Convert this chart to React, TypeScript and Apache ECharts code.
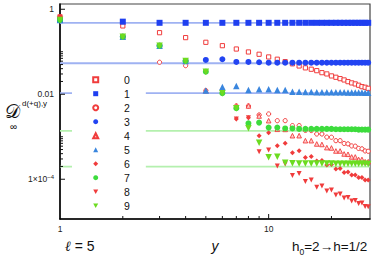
import React, { useEffect, useRef } from 'react';
import * as echarts from 'echarts';

// x values (y = 1..30)
const xValues = [1, 2, 3, 4, 5, 6, 7, 8, 9, 10, 11, 12, 13, 14, 15, 16, 17, 18, 19, 20, 21, 22, 23, 24, 25, 26, 27, 28, 29, 30];

const s0 = [0.659, 0.405, 0.281, 0.215, 0.167, 0.139, 0.116, 0.0989, 0.0873, 0.0755, 0.0667, 0.0585, 0.052, 0.0463, 0.0418, 0.0388, 0.0359, 0.0322, 0.0301, 0.027, 0.0251, 0.0233, 0.0217, 0.0198, 0.0185, 0.0175, 0.0163, 0.0151, 0.0146, 0.0138];
const s1 = [0.56, 0.511, 0.48, 0.48, 0.48, 0.48, 0.48, 0.48, 0.48, 0.48, 0.48, 0.48, 0.48, 0.48, 0.48, 0.48, 0.48, 0.48, 0.48, 0.48, 0.48, 0.48, 0.48, 0.48, 0.48, 0.48, 0.48, 0.48, 0.48, 0.48];
const s2 = [0.659, 0.226, 0.0566, 0.0471, 0.0122, 0.0126, 0.00531, 0.00531, 0.00326, 0.00344, 0.00239, 0.00239, 0.00183, 0.00183, 0.00141, 0.0014, 0.00116, 0.00116, 0.00098, 0.000973, 0.000809, 0.000809, 0.000695, 0.00068, 0.000608, 0.0006, 0.000531, 0.00052, 0.000463, 0.000455];
const s3 = [0.56, 0.226, 0.139, 0.0608, 0.0641, 0.0667, 0.0575, 0.0575, 0.0566, 0.0554, 0.0554, 0.0554, 0.0554, 0.0554, 0.0554, 0.0554, 0.0554, 0.0554, 0.0554, 0.0554, 0.0554, 0.0554, 0.0554, 0.0554, 0.0554, 0.0554, 0.0554, 0.0554, 0.0554, 0.0554];
const s4 = [0.659, 0.226, 0.139, 0.0608, 0.0122, 0.0126, 0.00531, 0.00531, 0.00308, 0.00239, 0.0015, 0.00149, 0.00106, 0.00106, 0.000809, 0.000809, 0.000677, 0.000659, 0.000555, 0.000545, 0.000463, 0.000463, 0.000394, 0.000387, 0.000335, 0.000335, 0.000292, 0.000292, 0.000259, 0.000259];
const s5 = [0.56, 0.226, 0.139, 0.0608, 0.0122, 0.0149, 0.0157, 0.0126, 0.0131, 0.0131, 0.0126, 0.0126, 0.0115, 0.0115, 0.0113, 0.0113, 0.0112, 0.0112, 0.0112, 0.0111, 0.0111, 0.0111, 0.0111, 0.011, 0.011, 0.011, 0.011, 0.011, 0.0109, 0.0109];
const s6 = [0.659, 0.226, 0.139, 0.0608, 0.034, 0.01056, 0.00262, 0.00281, 0.00106, 0.00125, 0.000618, 0.000703, 0.000422, 0.000471, 0.000326, 0.000344, 0.00027, 0.000277, 0.000217, 0.000223, 0.000175, 0.000179, 0.000145, 0.000149, 0.000126, 0.000126, 0.00011, 0.00011, 0.0000964, 0.0000964];
const s7 = [0.56, 0.226, 0.139, 0.0608, 0.034, 0.01056, 0.00469, 0.00208, 0.00215, 0.00164, 0.00164, 0.00157, 0.00157, 0.00153, 0.00153, 0.00153, 0.00153, 0.00153, 0.00153, 0.00153, 0.0015, 0.0015, 0.0015, 0.0015, 0.0015, 0.0015, 0.00147, 0.00147, 0.00147, 0.00147];
const s8 = [0.659, 0.226, 0.139, 0.0608, 0.034, 0.01056, 0.00262, 0.00281, 0.000446, 0.000489, 0.000206, 0.000229, 0.000122, 0.000137, 0.0000879, 0.0000964, 0.0000648, 0.0000696, 0.0000531, 0.000056, 0.0000427, 0.0000451, 0.0000363, 0.0000373, 0.0000308, 0.0000317, 0.000027, 0.0000277, 0.0000229, 0.0000226];
const s9 = [0.56, 0.226, 0.139, 0.0608, 0.034, 0.01056, 0.00469, 0.00158, 0.000726, 0.00033, 0.00034, 0.000246, 0.000238, 0.000235, 0.000235, 0.000235, 0.000235, 0.000235, 0.000235, 0.000235, 0.000233, 0.000233, 0.000233, 0.000232, 0.000232, 0.000231, 0.000231, 0.00023, 0.00023, 0.000229];

const seriesNames = ['0', '1', '2', '3', '4', '5', '6', '7', '8', '9'];
const seriesValues = [s0, s1, s2, s3, s4, s5, s6, s7, s8, s9];

// horizontal reference levels
const blueLevels = [0.476, 0.0537, 0.0106];
const greenLevels = [0.00137, 0.000198];

// axis ranges
const xMin = 1;
const xMax = 30.6;
const yMin = 1.16e-5;
const yMax = 1.33;

// tick labels
const xLabelValues = [1, 10];
const xLabelTexts = ['1', '10'];
const yLabelValues = [1, 0.01, 0.0001];
const yLabelTexts = ['1', '0.01', '{a|1×10}{b|−4}'];

// extra ticks drawn on the frame
const yMajorTicks = [1, 0.01, 0.0001];
const yMinorTicks = [0.1, 0.09, 0.08, 0.07, 0.06, 0.05, 0.04, 0.03, 0.02, 0.001, 0.0009, 0.0008, 0.0007, 0.0006, 0.0005, 0.0004, 0.0003, 0.0002];
const xMajorTicks = [10];
const xMinorTicks = [2, 3, 4, 5, 6, 7, 8, 9, 20];

const RED = '#f03c3c';
const INV_TRI = 'path://M0,0 L10,0 L5,9 Z';

const styles = [
  { symbol: 'rect', size: 4.2, color: '#ffffff', border: RED, bw: 1, rotate: 0, legendIcon: 'rect' },
  { symbol: 'rect', size: 6, color: '#1f3ff0', border: undefined, bw: 0, rotate: 0, legendIcon: 'rect' },
  { symbol: 'circle', size: 4.2, color: '#ffffff', border: RED, bw: 1, rotate: 0, legendIcon: 'circle' },
  { symbol: 'circle', size: 6, color: '#2244f2', border: undefined, bw: 0, rotate: 0, legendIcon: 'circle' },
  { symbol: 'triangle', size: 4.6, color: '#ffd0d0', border: RED, bw: 0.9, rotate: 0, legendIcon: 'triangle' },
  { symbol: 'triangle', size: 6.5, color: '#3a86de', border: undefined, bw: 0, rotate: 0, legendIcon: 'triangle' },
  { symbol: 'diamond', size: 5, color: RED, border: undefined, bw: 0, rotate: 0, legendIcon: 'diamond' },
  { symbol: 'circle', size: 6, color: '#3ddc3d', border: undefined, bw: 0, rotate: 0, legendIcon: 'circle' },
  { symbol: 'triangle', size: 5, color: RED, border: undefined, bw: 0, rotate: 180, legendIcon: INV_TRI },
  { symbol: 'triangle', size: 6.5, color: '#6cdc20', border: undefined, bw: 0, rotate: 180, legendIcon: INV_TRI },
];

const FONT = '"Liberation Sans", Arial, Helvetica, sans-serif';

function matchLabel(v: number, values: number[], texts: string[]): string {
  for (let i = 0; i < values.length; i++) {
    if (Math.abs(Math.log10(v) - Math.log10(values[i])) < 1e-6) return texts[i];
  }
  return '';
}

export default function App() {
  const ref = useRef<HTMLDivElement>(null);
  useEffect(() => {
    if (!ref.current) return;
    const chart = echarts.init(ref.current, undefined, { renderer: 'svg' });

    const lineSeries: any[] = [];
    blueLevels.forEach((v) => {
      lineSeries.push({
        type: 'line', silent: true, z: 1, showSymbol: false, symbol: 'none',
        data: [[xMin, v], [xMax, v]],
        lineStyle: { color: '#9fb2f2', width: 1.8 },
      });
    });
    greenLevels.forEach((v) => {
      lineSeries.push({
        type: 'line', silent: true, z: 1, showSymbol: false, symbol: 'none',
        data: [[xMin, v], [xMax, v]],
        lineStyle: { color: '#b4f0ae', width: 1.8 },
      });
    });

    const scatterSeries = seriesValues.map((vals, i) => {
      const st = styles[i];
      return {
        name: seriesNames[i],
        type: 'scatter',
        z: 2,
        symbol: st.symbol,
        symbolSize: st.size,
        symbolRotate: st.rotate,
        data: xValues.map((x, j) => [x, vals[j]]),
        itemStyle: {
          color: st.color,
          borderColor: st.border,
          borderWidth: st.bw,
          opacity: 1,
        },
      };
    });

    const tickData: number[][] = [];
    yMajorTicks.forEach((v) => tickData.push([xMin, v, 0, 5]));
    yMinorTicks.forEach((v) => tickData.push([xMin, v, 0, 3]));
    xMajorTicks.forEach((v) => tickData.push([v, yMin, 1, 5]));
    xMinorTicks.forEach((v) => tickData.push([v, yMin, 1, 3]));

    const tickSeries = {
      type: 'custom',
      silent: true,
      z: 3,
      data: tickData,
      encode: { x: 0, y: 1 },
      renderItem: (params: any, api: any) => {
        const p = api.coord([api.value(0), api.value(1)]);
        const orient = api.value(2);
        const len = api.value(3);
        const shape = orient === 0
          ? { x1: p[0], y1: p[1], x2: p[0] + len, y2: p[1] }
          : { x1: p[0], y1: p[1], x2: p[0], y2: p[1] - len };
        return { type: 'line', shape, style: { stroke: '#111', lineWidth: 1 } };
      },
    };

    chart.setOption({
      animation: false,
      backgroundColor: '#ffffff',
      textStyle: { fontFamily: FONT },
      grid: {
        left: 60, right: 4, top: 4, bottom: 45,
        show: true, borderColor: '#444', borderWidth: 1.2, backgroundColor: 'transparent',
        containLabel: false,
      },
      legend: {
        orient: 'vertical',
        left: 72,
        top: 70,
        padding: [3.7, 16, 2, 20.2],
        itemWidth: 5,
        itemHeight: 5,
        itemGap: 2,
        backgroundColor: '#ffffff',
        selectedMode: false,
        data: seriesNames.map((n, i) => ({ name: n, icon: styles[i].legendIcon })),
        textStyle: { fontSize: 10.5, lineHeight: 12, color: '#111', fontFamily: FONT, padding: [0, 0, 0, 20.8] },
        z: 4,
      },
      xAxis: {
        type: 'log',
        logBase: 10,
        min: xMin,
        max: xMax,
        name: 'y',
        nameLocation: 'middle',
        nameGap: 20,
        nameTextStyle: { fontSize: 14, fontStyle: 'italic', color: '#111', fontFamily: FONT },
        axisLine: { show: true, lineStyle: { color: '#000', width: 1.5 } },
        axisTick: { show: false },
        minorTick: { show: false },
        splitLine: { show: false },
        axisLabel: {
          fontSize: 8.5, color: '#222', margin: 5,
          formatter: (v: number) => matchLabel(v, xLabelValues, xLabelTexts),
        },
      },
      yAxis: {
        type: 'log',
        logBase: 10,
        min: yMin,
        max: yMax,
        axisLine: { show: true, lineStyle: { color: '#000', width: 1.5 } },
        axisTick: { show: false },
        minorTick: { show: false },
        splitLine: { show: false },
        axisLabel: {
          fontSize: 8.5, color: '#222', margin: 6,
          formatter: (v: number) => matchLabel(v, yLabelValues, yLabelTexts),
          rich: {
            a: { fontSize: 8.5, color: '#222', verticalAlign: 'middle', fontFamily: FONT },
            b: { fontSize: 6, color: '#222', verticalAlign: 'top', padding: [0, 0, 5, 0], fontFamily: FONT },
          },
        },
      },
      graphic: [
        {
          type: 'text', left: 5, top: 101, z: 10,
          style: { text: '𝒟', fontSize: 19, fill: '#111', fontFamily: '"DejaVu Serif", "Noto Sans", serif' },
        },
        {
          type: 'text', left: 22, top: 99.5, z: 10,
          style: { text: 'd(+q),y', fontSize: 8, fill: '#111', fontFamily: FONT },
        },
        {
          type: 'text', left: 10, top: 121, z: 10,
          style: { text: '∞', fontSize: 10, fill: '#111', fontFamily: FONT },
        },
        {
          type: 'text', left: 65, top: 239, z: 10,
          style: {
            text: '{l|ℓ}{n| = 5}',
            fill: '#111',
            rich: {
              l: { fontSize: 14, fontStyle: 'italic', fontFamily: '"DejaVu Serif", serif', fill: '#111' },
              n: { fontSize: 14, fontFamily: FONT, fill: '#111' },
            },
          },
        },
        {
          type: 'text', left: 292, top: 239, z: 10,
          style: {
            text: '{n|h}{s|0}{n|=2→h=1/2}',
            fill: '#111',
            rich: {
              n: { fontSize: 13.5, fontFamily: FONT, fill: '#111', verticalAlign: 'bottom' },
              s: { fontSize: 8.5, fontFamily: FONT, fill: '#111', verticalAlign: 'bottom', padding: [0, 0, -3, 0] },
            },
          },
        },
      ],
      series: [...lineSeries, ...scatterSeries, tickSeries],
    });

    return () => chart.dispose();
  }, []);

  return <div ref={ref} style={{ position: 'absolute', left: 0, top: 0, width: 374, height: 264 }} />;
}
